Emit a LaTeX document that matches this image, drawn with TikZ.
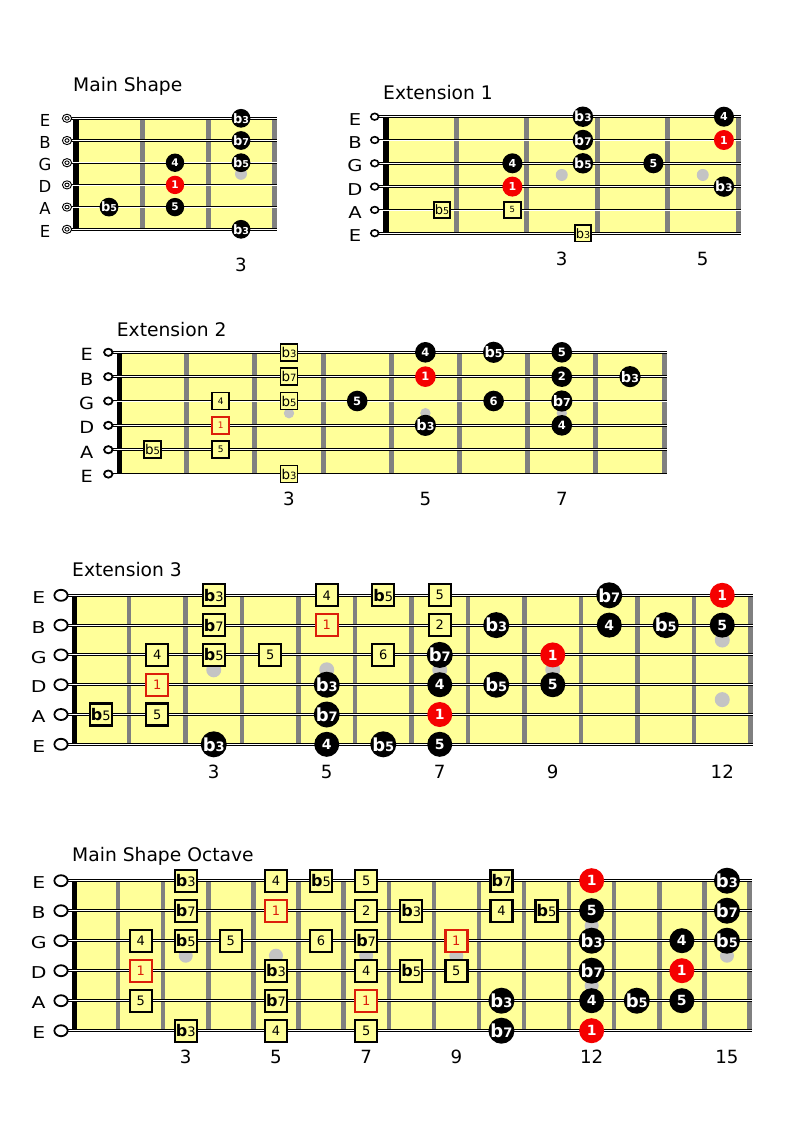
\documentclass[tikz,border=0pt]{standalone}
\usepackage{fontspec}
\setmainfont{DejaVu Sans}
\usepackage{graphicx}
\definecolor{yel}{RGB}{255,255,153}
\definecolor{fretc}{RGB}{128,128,128}
\definecolor{dotc}{RGB}{196,196,196}
\definecolor{rsqc}{RGB}{220,30,10}
\definecolor{redn}{RGB}{245,0,0}
\newcommand\fl[1]{{\fontsize{\FB}{\FB}\selectfont\FW b}{\fontsize{\FD}{\FD}\selectfont #1}}
\newcommand\setdiag[7]{\def\dn{#1}\def\bX{#2}\def\bD{#3}\def\bY{#4}\def\bS{#5}\def\bN{#6}\def\bO{#7}}
\newcommand\nt[4]{\node[#1] (\dn-#3-#2) at ({\bX+(#2-\bO)*\bD},{\bY+(#3-1)*\bS}) {#4};}
\newcommand\drawboard[3]{%
  \fill[yel] (#1,\bY) rectangle ({\bX+\bN*\bD},{\bY+5*\bS});
  \foreach \i in {1,...,\bN} \draw[fretc, line width=#3pt] ({\bX+\i*\bD},\bY) -- ({\bX+\i*\bD},{\bY+5*\bS});
  \fill[black] (#1,\bY) rectangle (#2,{\bY+5*\bS});}
\newcommand\gdot[3]{\fill[dotc] ({\bX+(#1-0.5)*\bD},{\bY+#2*\bS}) circle (#3pt);}
\newcommand\strs[4]{\foreach \s in {0,...,5}{%
  \draw[line width=#3pt] (#1,{\bY+\s*\bS}) -- ({\bX+\bN*\bD+#2},{\bY+\s*\bS});
  \draw[white,line width=#4pt] (#1,{\bY+\s*\bS}) -- ({\bX+\bN*\bD+#2},{\bY+\s*\bS});}}
% label x, marker x, rx, ry, font size, xscale, baseline offset, marker line width
\newcommand\opn[8]{\foreach \l [count=\c from 0] in {E,B,G,D,A,E}{%
  \node[font=\fontsize{#5}{#5}\selectfont, inner sep=0pt, anchor=base] (\dn-l\c) at (#1,{\bY+\c*\bS+#7}) {\scalebox{#6}[1]{\l}};
  \draw[line width=#8pt, fill=white] (#2,{\bY+\c*\bS}) ellipse [x radius=#3pt, y radius=#4pt];}}
\newcommand\opnD[4]{\foreach \l [count=\c from 0] in {E,B,G,D,A,E}{%
  \node[font=\fontsize{#3}{#3}\selectfont, inner sep=0pt, anchor=base] (\dn-l\c) at (#1,{\bY+\c*\bS+#4}) {\l};
  \draw[line width=0.9pt, fill=white] (#2,{\bY+\c*\bS}) ellipse [x radius=4.6pt, y radius=4.1pt];
  \draw[line width=0.9pt] (#2,{\bY+\c*\bS}) ellipse [x radius=2.1pt, y radius=1.8pt];}}
\newcommand\fn[2]{\node[fnum, anchor=base] (\dn-fn#1) at ({\bX+(#1-0.5)*\bD},#2) {#1};}
\tikzset{
  blk/.style={circle, fill=black, text=white, inner sep=0pt, minimum size=\CD pt, font=\CFont},
  rd/.style={blk, fill=redn},
  sq/.style={rectangle, draw=black, fill=yel, text=black, inner sep=0pt, minimum size=\SD pt, line width=\SL pt, font=\SFont},
  rsq/.style={sq, draw=rsqc, text=rsqc},
  fnum/.style={font=\fontsize{18.2}{18.2}\selectfont, inner sep=0pt},
  ttl/.style={font=\fontsize{18.7}{18.7}\selectfont, inner sep=0pt, anchor=base west},
}
\begin{document}
\begin{tikzpicture}[x=1pt,y=-1pt]
\useasboundingbox (0,0) rectangle (792,1122);
\fill[white] (0,0) rectangle (792,1122);
%% ---------------- Main Shape
\setdiag{m}{76}{66}{118.3}{22.2}{3}{0.5}
\def\CD{18.4}\def\CFont{\def\FW{\bfseries}\def\FB{13}\def\FD{9.5}\fontsize{10.5}{10.5}\selectfont\bfseries}
\drawboard{72.7}{79.3}{5}
\gdot{3}{2.5}{6}
\strs{67}{3}{2.4}{0.7}
\opnD{45}{67}{16.5}{7.8}
\nt{blk}{3}{1}{\fl3}
\nt{blk}{3}{2}{\fl7}
\nt{blk}{2}{3}{4}
\nt{blk}{3}{3}{\fl5}
\nt{rd}{2}{4}{1}
\nt{blk}{1}{5}{\fl5}
\nt{blk}{2}{5}{5}
\nt{blk}{3}{6}{\fl3}
\fn{3}{271.7}
\node[ttl] (m-title) at (73,91.7) {Main Shape};
%% ---------------- Extension 1
\setdiag{a}{385.5}{70.5}{116.7}{23.3}{5}{0.2}
\def\CD{20}\def\CFont{\def\FW{\bfseries}\def\FB{14}\def\FD{10.5}\fontsize{11}{11}\selectfont\bfseries}
\def\SD{16.5}\def\SL{1.7}\def\SFont{\def\FW{\mdseries}\def\FB{13}\def\FD{9.5}\fontsize{8.5}{8.5}\selectfont}
\drawboard{383}{389}{5}
\gdot{3}{2.5}{6}\gdot{5}{2.5}{6}
\strs{375}{3}{2.6}{0.8}
\opn{355}{374.7}{3.9}{3.3}{16.3}{1.2}{8.5}{1.6}
\nt{blk}{3}{1}{\fl3}
\nt{blk}{5}{1}{4}
\nt{blk}{3}{2}{\fl7}
\nt{rd}{5}{2}{1}
\nt{blk}{2}{3}{4}
\nt{blk}{3}{3}{\fl5}
\nt{blk}{4}{3}{5}
\nt{rd}{2}{4}{1}
\nt{blk}{5}{4}{\fl3}
\nt{sq}{1}{5}{\fl5}
\nt{sq}{2}{5}{5}
\nt{sq}{3}{6}{\fl3}
\fn{3}{265.7}\fn{5}{265.7}
\node[ttl] (a-title) at (383,99.3) {Extension 1};
%% ---------------- Extension 2
\setdiag{b}{118.5}{68.2}{352.3}{24.35}{8}{0.5}
\def\CD{20.6}\def\CFont{\def\FW{\bfseries}\def\FB{14.5}\def\FD{11}\fontsize{11.5}{11.5}\selectfont\bfseries}
\def\SD{17}\def\SL{1.8}\def\SFont{\def\FW{\mdseries}\def\FB{13.5}\def\FD{10}\fontsize{9}{9}\selectfont}
\drawboard{116.7}{121.7}{5}
\gdot{3}{2.5}{5.2}\gdot{5}{2.5}{5.2}\gdot{7}{2.5}{5.2}
\strs{108.3}{3}{2.6}{0.8}
\opn{86.7}{108.3}{4.2}{3.6}{16.8}{1.15}{8.5}{1.8}
\nt{sq}{3}{1}{\fl3}
\nt{blk}{5}{1}{4}
\nt{blk}{6}{1}{\fl5}
\nt{blk}{7}{1}{5}
\nt{sq}{3}{2}{\fl7}
\nt{rd}{5}{2}{1}
\nt{blk}{7}{2}{2}
\nt{blk}{8}{2}{\fl3}
\nt{sq}{2}{3}{4}
\nt{sq}{3}{3}{\fl5}
\nt{blk}{4}{3}{5}
\nt{blk}{6}{3}{6}
\nt{blk}{7}{3}{\fl7}
\nt{rsq}{2}{4}{1}
\nt{blk}{5}{4}{\fl3}
\nt{blk}{7}{4}{4}
\nt{sq}{1}{5}{\fl5}
\nt{sq}{2}{5}{5}
\nt{sq}{3}{6}{\fl3}
\fn{3}{505}\fn{5}{505}\fn{7}{505}
\node[ttl] (b-title) at (116.7,336) {Extension 2};
%% ---------------- Extension 3
\setdiag{c}{72.5}{56.5}{595.3}{29.8}{12}{0.5}
\def\CD{25}\def\CFont{\def\FW{\bfseries}\def\FB{18}\def\FD{13}\fontsize{14}{14}\selectfont\bfseries}
\def\SD{22}\def\SL{2.3}\def\SFont{\def\FW{\bfseries}\def\FB{16}\def\FD{13}\fontsize{13}{13}\selectfont}
\drawboard{71.7}{76.7}{4.4}
\gdot{3}{2.5}{7.5}\gdot{5}{2.5}{7.5}\gdot{7}{2.5}{7.5}\gdot{9}{2.5}{7.5}
\gdot{12}{1.5}{7.5}\gdot{12}{3.5}{7.5}
\strs{61}{2}{3}{1}
\opn{38.7}{61}{6.6}{5.5}{16.3}{1.25}{8.2}{1.8}
\nt{sq}{3}{1}{\fl3}
\nt{sq}{5}{1}{4}
\nt{sq}{6}{1}{\fl5}
\nt{sq}{7}{1}{5}
\nt{blk}{10}{1}{\fl7}
\nt{rd}{12}{1}{1}
\nt{sq}{3}{2}{\fl7}
\nt{rsq}{5}{2}{1}
\nt{sq}{7}{2}{2}
\nt{blk}{8}{2}{\fl3}
\nt{blk}{10}{2}{4}
\nt{blk}{11}{2}{\fl5}
\nt{blk}{12}{2}{5}
\nt{sq}{2}{3}{4}
\nt{sq}{3}{3}{\fl5}
\nt{sq}{4}{3}{5}
\nt{sq}{6}{3}{6}
\nt{blk}{7}{3}{\fl7}
\nt{rd}{9}{3}{1}
\nt{rsq}{2}{4}{1}
\nt{blk}{5}{4}{\fl3}
\nt{blk}{7}{4}{4}
\nt{blk}{8}{4}{\fl5}
\nt{blk}{9}{4}{5}
\nt{sq}{1}{5}{\fl5}
\nt{sq}{2}{5}{5}
\nt{blk}{5}{5}{\fl7}
\nt{rd}{7}{5}{1}
\nt{blk}{3}{6}{\fl3}
\nt{blk}{5}{6}{4}
\nt{blk}{6}{6}{\fl5}
\nt{blk}{7}{6}{5}
\fn{3}{778}\fn{5}{778}\fn{7}{778}\fn{9}{778}\fn{12}{778}
\node[ttl] (c-title) at (72,576.7) {Extension 3};
%% ---------------- Main Shape Octave
\setdiag{o}{73}{45.1}{880.7}{30}{15}{0.5}
\drawboard{71.7}{76.7}{4.4}
\gdot{3}{2.5}{7}\gdot{5}{2.5}{7}\gdot{7}{2.5}{7}\gdot{9}{2.5}{7}\gdot{15}{2.5}{7}
\gdot{12}{1.5}{7}\gdot{12}{3.5}{7}
\strs{61}{2}{3}{1}
\opn{38.7}{61}{6.6}{5.5}{16.3}{1.25}{8.2}{1.8}
\nt{sq}{3}{1}{\fl3}
\nt{sq}{5}{1}{4}
\nt{sq}{6}{1}{\fl5}
\nt{sq}{7}{1}{5}
\nt{sq}{10}{1}{\fl7}
\nt{rd}{12}{1}{1}
\nt{blk}{15}{1}{\fl3}
\nt{sq}{3}{2}{\fl7}
\nt{rsq}{5}{2}{1}
\nt{sq}{7}{2}{2}
\nt{sq}{8}{2}{\fl3}
\nt{sq}{10}{2}{4}
\nt{sq}{11}{2}{\fl5}
\nt{blk}{12}{2}{5}
\nt{blk}{15}{2}{\fl7}
\nt{sq}{2}{3}{4}
\nt{sq}{3}{3}{\fl5}
\nt{sq}{4}{3}{5}
\nt{sq}{6}{3}{6}
\nt{sq}{7}{3}{\fl7}
\nt{rsq}{9}{3}{1}
\nt{blk}{12}{3}{\fl3}
\nt{blk}{14}{3}{4}
\nt{blk}{15}{3}{\fl5}
\nt{rsq}{2}{4}{1}
\nt{sq}{5}{4}{\fl3}
\nt{sq}{7}{4}{4}
\nt{sq}{8}{4}{\fl5}
\nt{sq}{9}{4}{5}
\nt{blk}{12}{4}{\fl7}
\nt{rd}{14}{4}{1}
\nt{sq}{2}{5}{5}
\nt{sq}{5}{5}{\fl7}
\nt{rsq}{7}{5}{1}
\nt{blk}{10}{5}{\fl3}
\nt{blk}{12}{5}{4}
\nt{blk}{13}{5}{\fl5}
\nt{blk}{14}{5}{5}
\nt{sq}{3}{6}{\fl3}
\nt{sq}{5}{6}{4}
\nt{sq}{7}{6}{5}
\nt{blk}{10}{6}{\fl7}
\nt{rd}{12}{6}{1}
\fn{3}{1063}\fn{5}{1063}\fn{7}{1063}\fn{9}{1063}\fn{12}{1063}\fn{15}{1063}
\node[ttl] (o-title) at (72,861.7) {Main Shape Octave};
\end{tikzpicture}
\end{document}
